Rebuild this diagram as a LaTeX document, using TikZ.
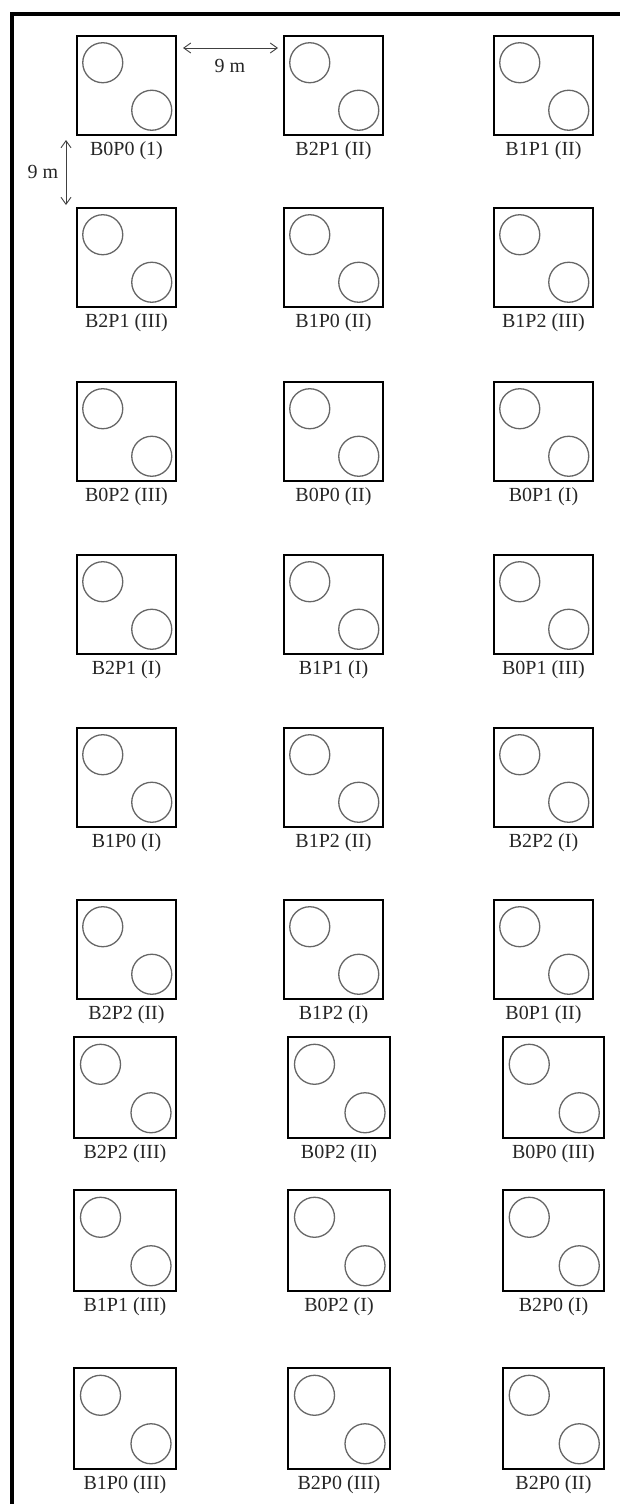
\documentclass[tikz,border=0pt]{standalone}
\usepackage{fontspec}
\setmainfont{Liberation Serif}
\usetikzlibrary{calc,arrows.meta}
\tikzset{
  boxst/.style={rectangle, draw=black, line width=2.2pt, inner sep=0pt, outer sep=0pt},
  circst/.style={circle, draw=black!60, line width=1.3pt, minimum size=40pt, inner sep=0pt, outer sep=0pt},
  labst/.style={font=\fontsize{20}{24}\selectfont, text=black!85, inner sep=0pt},
  dimarrow/.style={draw=black!75, line width=0.9pt, {Straight Barb[length=7pt,width=10pt]}-{Straight Barb[length=7pt,width=10pt]}},
  framest/.style={draw=black, line width=4pt, line join=miter}
}
\newcommand{\mkplot}[6]{%
  \node[boxst, minimum width=#4pt, minimum height=#5pt, anchor=north west] (#1) at (#2,#3) {};
  \node[circst] (#1a) at ($(#1.north west)+({0.25*#4+1},{0.27*#5})$) {};
  \node[circst] (#1b) at ($(#1.north west)+({0.755*#4},{0.75*#5})$) {};
  \node[labst] (#1l) at ($(#1.south)+(0,16)$) {#6};
}
\begin{document}
\begin{tikzpicture}[x=1pt,y=-1pt]
\useasboundingbox (0,0) rectangle (619,1504);
\draw[framest] (12,1520) -- (12,14) -- (640,14);
% row 1
\mkplot{p11}{77}{36}{99}{99}{B0P0 (1)}
\mkplot{p12}{284}{36}{99}{99}{B2P1 (II)}
\mkplot{p13}{494}{36}{99}{99}{B1P1 (II)}
% row 2
\mkplot{p21}{77}{208}{99}{99}{B2P1 (III)}
\mkplot{p22}{284}{208}{99}{99}{B1P0 (II)}
\mkplot{p23}{494}{208}{99}{99}{B1P2 (III)}
% row 3
\mkplot{p31}{77}{382}{99}{99}{B0P2 (III)}
\mkplot{p32}{284}{382}{99}{99}{B0P0 (II)}
\mkplot{p33}{494}{382}{99}{99}{B0P1 (I)}
% row 4
\mkplot{p41}{77}{555}{99}{99}{B2P1 (I)}
\mkplot{p42}{284}{555}{99}{99}{B1P1 (I)}
\mkplot{p43}{494}{555}{99}{99}{B0P1 (III)}
% row 5
\mkplot{p51}{77}{728}{99}{99}{B1P0 (I)}
\mkplot{p52}{284}{728}{99}{99}{B1P2 (II)}
\mkplot{p53}{494}{728}{99}{99}{B2P2 (I)}
% row 6
\mkplot{p61}{77}{900}{99}{99}{B2P2 (II)}
\mkplot{p62}{284}{900}{99}{99}{B1P2 (I)}
\mkplot{p63}{494}{900}{99}{99}{B0P1 (II)}
% row 7
\mkplot{p71}{74}{1037}{102}{101}{B2P2 (III)}
\mkplot{p72}{288}{1037}{102}{101}{B0P2 (II)}
\mkplot{p73}{503}{1037}{101}{101}{B0P0 (III)}
% row 8
\mkplot{p81}{74}{1190}{102}{101}{B1P1 (III)}
\mkplot{p82}{288}{1190}{102}{101}{B0P2 (I)}
\mkplot{p83}{503}{1190}{101}{101}{B2P0 (I)}
% row 9
\mkplot{p91}{74}{1368}{102}{101}{B1P0 (III)}
\mkplot{p92}{288}{1368}{102}{101}{B2P0 (III)}
\mkplot{p93}{503}{1368}{101}{101}{B2P0 (II)}
% spacing arrows
\coordinate (h1) at (183,48);
\coordinate (h2) at (278,48);
\draw[dimarrow] (h1) -- (h2);
\node[labst] (hl) at (230,66) {9 m};
\coordinate (v1) at (66,140);
\coordinate (v2) at (66,205);
\draw[dimarrow] (v1) -- (v2);
\node[labst] (vl) at (43,172) {9 m};
\end{tikzpicture}
\end{document}
